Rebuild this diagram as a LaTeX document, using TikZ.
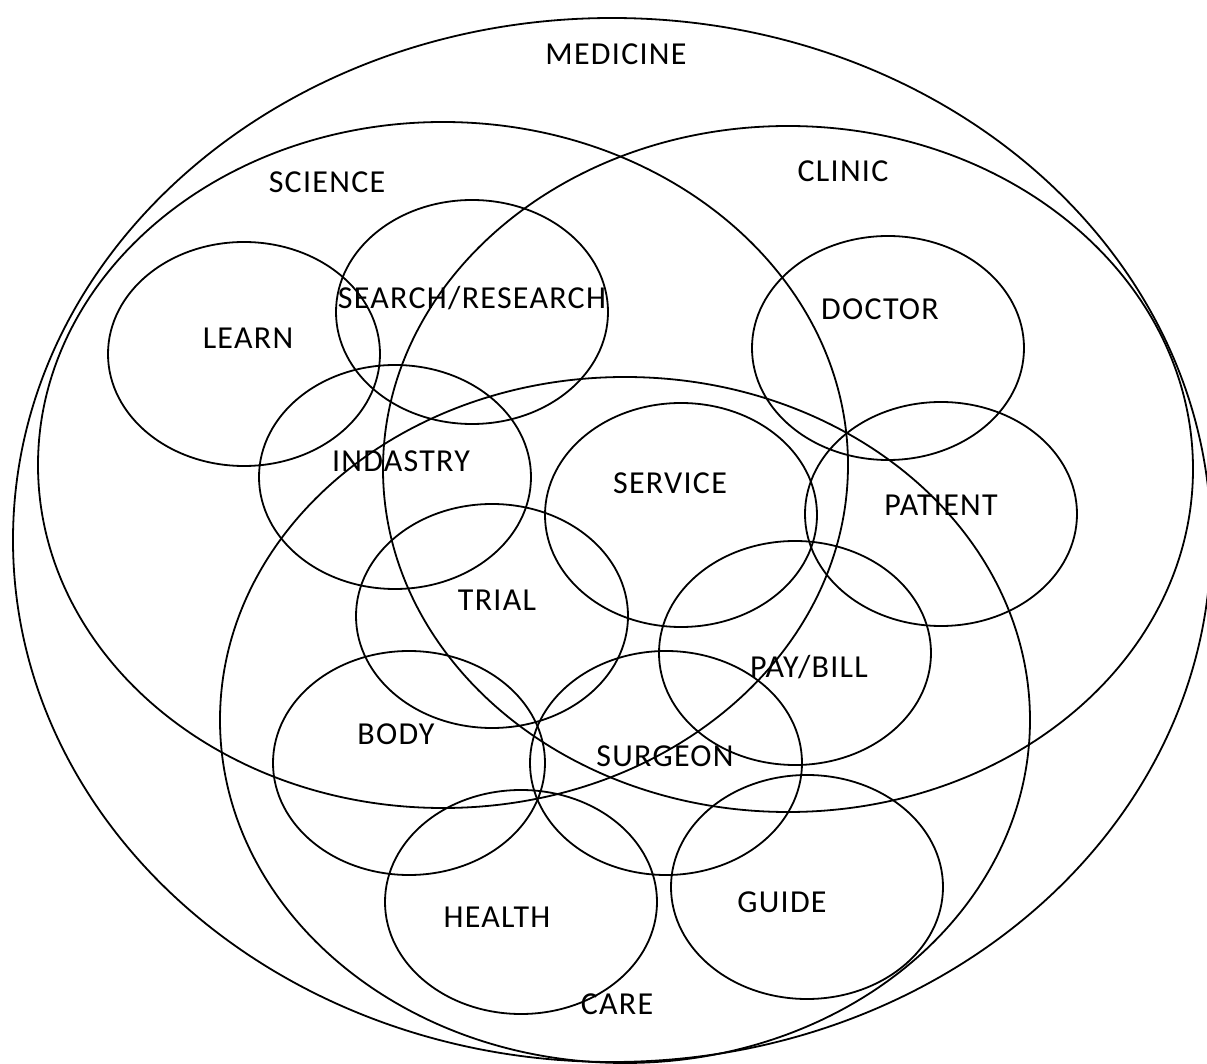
\documentclass[tikz,border=0pt]{standalone}
\usepackage{fontspec}
\setmainfont{Carlito}[LetterSpace=4]

\begin{document}
\begin{tikzpicture}[x=0.5pt, y=-0.5pt, line width=0.9pt,
    bigset/.style={x radius=405, y radius=343},
    smallset/.style={x radius=136, y radius=112},
    lbl/.style={anchor=base, font=\fontsize{16}{19}\selectfont}]
  \useasboundingbox (0,0) rectangle (1207,1064);

  % Centres of the sets
  \coordinate (medicine) at (612,540);
  \coordinate (science)  at (443,465);
  \coordinate (clinic)   at (788,469);
  \coordinate (care)     at (625,720);
  \coordinate (learn)    at (244,354);
  \coordinate (search)   at (472,312);
  \coordinate (industry) at (395,477);
  \coordinate (doctor)   at (888,348);
  \coordinate (service)  at (681,515);
  \coordinate (patient)  at (941,514);
  \coordinate (trial)    at (492,616);
  \coordinate (paybill)  at (795,653);
  \coordinate (body)     at (409,763);
  \coordinate (surgeon)  at (666,763);
  \coordinate (health)   at (521,902);
  \coordinate (guide)    at (807,887);

  % Outer sets
  \draw (medicine) ellipse [x radius=599, y radius=522];
  \draw (science) ellipse [bigset];
  \draw (clinic) ellipse [bigset];
  \draw (care) ellipse [bigset];

  % Inner sets
  \foreach \s in {learn, search, industry, doctor, service, patient,
                  trial, paybill, body, surgeon, health, guide}
    \draw (\s) ellipse [smallset];

  % Labels
  \node[lbl] (medicine-l) at (616,65)   {MEDICINE};
  \node[lbl] (science-l)  at (327,193)  {SCIENCE};
  \node[lbl] (clinic-l)   at (843,182)  {CLINIC};
  \node[lbl] (care-l)     at (617,1014) {CARE};
  \node[lbl] (learn-l)    at (248,349)  {LEARN};
  \node[lbl] (search-l)   at (472,309)  {SEARCH/RESEARCH};
  \node[lbl] (industry-l) at (401,472)  {INDASTRY};
  \node[lbl] (doctor-l)   at (880,320)  {DOCTOR};
  \node[lbl] (service-l)  at (670,494)  {SERVICE};
  \node[lbl] (patient-l)  at (941,516)  {PATIENT};
  \node[lbl] (trial-l)    at (497,611)  {TRIAL};
  \node[lbl] (paybill-l)  at (809,678)  {PAY/BILL};
  \node[lbl] (body-l)     at (396,745)  {BODY};
  \node[lbl] (surgeon-l)  at (665,767)  {SURGEON};
  \node[lbl] (health-l)   at (497,928)  {HEALTH};
  \node[lbl] (guide-l)    at (782,913)  {GUIDE};
\end{tikzpicture}
\end{document}
